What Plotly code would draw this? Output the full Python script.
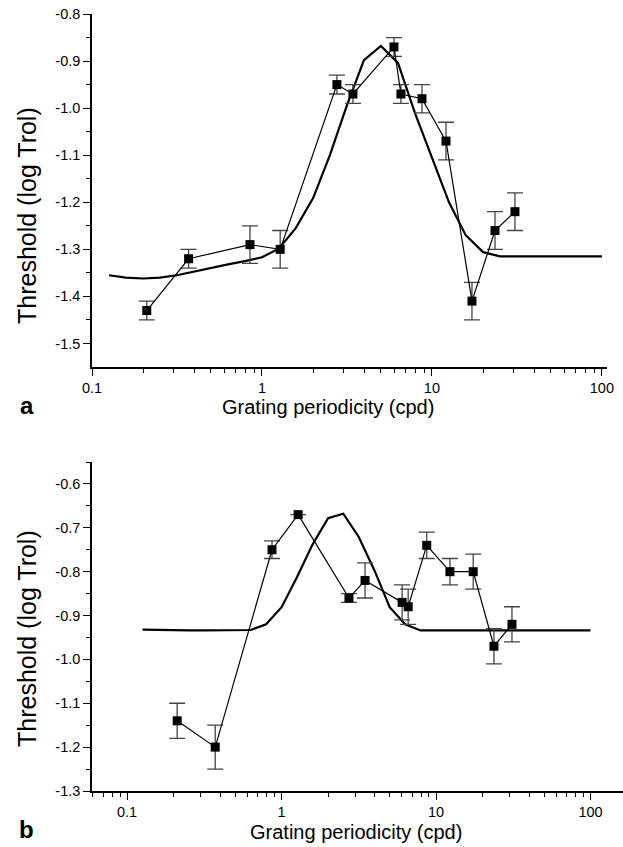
import plotly.graph_objects as go

# ---------------- data ----------------
# panel a : measured thresholds
a_freq = [0.21, 0.37, 0.85, 1.28, 2.76, 3.43, 5.98, 6.57, 8.74, 12.1, 17.2, 23.5, 30.8]
a_thr = [-1.43, -1.32, -1.29, -1.30, -0.95, -0.97, -0.87, -0.97, -0.98, -1.07, -1.41, -1.26, -1.22]
a_err = [0.02, 0.02, 0.04, 0.04, 0.02, 0.02, 0.02, 0.02, 0.03, 0.04, 0.04, 0.04, 0.04]

# panel a : model curve
a_mod_freq = [0.126, 0.158, 0.2, 0.251, 0.316, 0.398, 0.501, 0.631, 0.794, 1.0, 1.26, 1.58,
              2.0, 2.51, 3.16, 3.98, 5.01, 6.31, 7.94, 10.0, 12.6, 15.8, 20.0, 25.1, 100.0]
a_mod_thr = [-1.355, -1.36, -1.362, -1.36, -1.355, -1.347, -1.34, -1.332, -1.325, -1.317, -1.298, -1.255,
             -1.191, -1.10, -0.994, -0.898, -0.868, -0.904, -1.01, -1.104, -1.20, -1.27, -1.306, -1.315, -1.315]

# panel b : measured thresholds
b_freq = [0.211, 0.372, 0.867, 1.28, 2.73, 3.47, 6.03, 6.6, 8.7, 12.3, 17.4, 23.7, 31.0]
b_thr = [-1.14, -1.20, -0.75, -0.67, -0.86, -0.82, -0.87, -0.88, -0.74, -0.80, -0.80, -0.97, -0.92]
b_err = [0.04, 0.05, 0.02, 0.0, 0.01, 0.04, 0.04, 0.04, 0.03, 0.03, 0.04, 0.04, 0.04]

# panel b : model curve
b_mod_freq = [0.126, 0.158, 0.2, 0.251, 0.316, 0.398, 0.501, 0.631, 0.794, 1.0, 1.26, 1.58,
              2.0, 2.51, 3.16, 3.98, 5.01, 6.31, 7.94, 10.0, 100.0]
b_mod_thr = [-0.932, -0.933, -0.934, -0.934, -0.934, -0.934, -0.934, -0.933, -0.92, -0.881, -0.812, -0.739,
             -0.678, -0.668, -0.721, -0.796, -0.881, -0.92, -0.934, -0.934, -0.934]

# ticks
x_major = [0.1, 1, 10, 100]
x_major_text = ["0.1", "1", "10", "100"]
x_minor_a = [0.2, 0.3, 0.4, 0.5, 0.6, 0.7, 0.8, 0.9, 2, 3, 4, 5, 6, 7, 8, 9,
             20, 30, 40, 50, 60, 70, 80, 90]
x_minor_b = [0.06, 0.07, 0.08, 0.09] + x_minor_a
ya_major = [-0.8, -0.9, -1.0, -1.1, -1.2, -1.3, -1.4, -1.5]
ya_major_text = ["-0.8", "-0.9", "-1.0", "-1.1", "-1.2", "-1.3", "-1.4", "-1.5"]
ya_minor = [-0.85, -0.95, -1.05, -1.15, -1.25, -1.35, -1.45]
yb_major = [-0.6, -0.7, -0.8, -0.9, -1.0, -1.1, -1.2, -1.3]
yb_major_text = ["-0.6", "-0.7", "-0.8", "-0.9", "-1.0", "-1.1", "-1.2", "-1.3"]
yb_minor = [-0.55, -0.65, -0.75, -0.85, -0.95, -1.05, -1.15, -1.25]

FONT = "Liberation Sans, Arial, sans-serif"
W, H = 623, 847

fig = go.Figure()

def add_panel(xa, ya, freq, thr, err, mf, mt):
    fig.add_trace(go.Scatter(x=mf, y=mt, mode="lines", xaxis=xa, yaxis=ya,
                             line=dict(color="black", width=2.2), showlegend=False,
                             hoverinfo="skip", cliponaxis=False))
    fig.add_trace(go.Scatter(x=freq, y=thr, mode="lines+markers", xaxis=xa, yaxis=ya,
                             line=dict(color="black", width=1.2),
                             marker=dict(symbol="square", size=9, color="black"),
                             error_y=dict(type="data", array=err, visible=True,
                                          color="#444", thickness=1.3, width=8),
                             showlegend=False))

add_panel("x", "y", a_freq, a_thr, a_err, a_mod_freq, a_mod_thr)
add_panel("x2", "y2", b_freq, b_thr, b_err, b_mod_freq, b_mod_thr)

axis_common = dict(showline=True, linecolor="black", linewidth=1.5, showgrid=False,
                   zeroline=False, ticks="outside", ticklen=7, tickwidth=1.3,
                   tickcolor="black", mirror=False, automargin=False,
                   tickfont=dict(family=FONT, size=14.5, color="black"))

fig.update_layout(
    width=W, height=H, margin=dict(l=0, r=0, t=0, b=0, autoexpand=False),
    plot_bgcolor="white", paper_bgcolor="white",
    xaxis=dict(type="log", domain=[92 / W, 607 / W], range=[-1, 2.03], anchor="y",
               tickmode="array", tickvals=x_major, ticktext=x_major_text,
               minor=dict(tickmode="array", tickvals=x_minor_a, ticks="outside",
                          ticklen=4, tickwidth=1.2, tickcolor="black"),
               **axis_common),
    yaxis=dict(domain=[1 - 367 / H, 1 - 14 / H], range=[-1.55, -0.8], anchor="x",
               tickmode="array", tickvals=ya_major, ticktext=ya_major_text,
               minor=dict(tickmode="array", tickvals=ya_minor, ticks="outside",
                          ticklen=4, tickwidth=1.2, tickcolor="black"),
               **axis_common),
    xaxis2=dict(type="log", domain=[92 / W, 1.0], range=[-1.227, 2.21], anchor="y2",
                tickmode="array", tickvals=x_major, ticktext=x_major_text,
                minor=dict(tickmode="array", tickvals=x_minor_b, ticks="outside",
                           ticklen=4, tickwidth=1.2, tickcolor="black"),
                **axis_common),
    yaxis2=dict(domain=[1 - 791 / H, 1 - 462 / H], range=[-1.3, -0.55], anchor="x2",
                tickmode="array", tickvals=yb_major, ticktext=yb_major_text,
                minor=dict(tickmode="array", tickvals=yb_minor, ticks="outside",
                           ticklen=4, tickwidth=1.2, tickcolor="black"),
                **axis_common),
)

def ann(text, x, y, size, angle=0, bold=False):
    fig.add_annotation(text=("<b>%s</b>" % text) if bold else text,
                       x=x / W, y=1 - y / H, xref="paper", yref="paper",
                       xanchor="center", yanchor="middle", showarrow=False,
                       textangle=angle, font=dict(family=FONT, size=size, color="black"))

ann("Grating periodicity (cpd)", 328, 407, 20)
ann("Grating periodicity (cpd)", 356, 832, 20)
ann("Threshold (log Trol)", 27, 216, 25, angle=-90)
ann("Threshold (log Trol)", 27, 639, 25, angle=-90)
ann("a", 27, 406, 24, bold=True)
ann("b", 26, 829, 24, bold=True)

fig.write_html("out.html", config={"displayModeBar": False},
               post_script="document.body.style.margin='0';document.body.style.overflow='hidden';")
